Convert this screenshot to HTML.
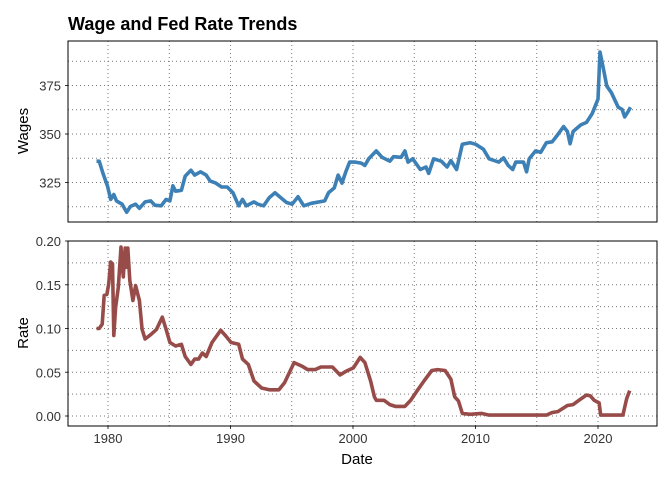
<!DOCTYPE html>
<html><head><meta charset="utf-8"><style>
body{margin:0;background:#fff;}
svg{display:block;font-family:"Liberation Sans",sans-serif;}
</style></head><body>
<svg id="chart" width="672" height="480" viewBox="0 0 672 480" xmlns="http://www.w3.org/2000/svg">
<text x="68" y="30" font-size="18" font-weight="bold" fill="#000">Wage and Fed Rate Trends</text>
<g id="grid"></g>
<g id="marks"></g>
<rect x="68" y="41" width="589" height="181" fill="none" stroke="#000" stroke-width="1"/>
<rect x="68" y="241" width="589" height="185" fill="none" stroke="#000" stroke-width="1"/>
<text transform="translate(28,131) rotate(-90)" text-anchor="middle" font-size="15" fill="#000">Wages</text>
<text transform="translate(28,333) rotate(-90)" text-anchor="middle" font-size="15" fill="#000">Rate</text>
<text x="357" y="464" text-anchor="middle" font-size="15" fill="#000">Date</text>
</svg>
<script>
const wageYears=[1979.06,1979.28,1979.59,1979.97,1980.22,1980.47,1980.69,1981.15,1981.53,1981.84,1982.25,1982.56,1983.03,1983.49,1983.81,1984.34,1984.74,1985.05,1985.30,1985.52,1985.99,1986.30,1986.77,1987.08,1987.55,1988.02,1988.33,1988.80,1989.27,1989.73,1990.20,1990.67,1990.98,1991.29,1991.92,1992.23,1992.70,1993.17,1993.63,1994.10,1994.57,1995.04,1995.51,1995.98,1996.60,1997.69,1998.00,1998.47,1998.78,1999.10,1999.41,1999.72,2000.19,2000.66,2000.97,2001.28,2001.90,2002.37,2003.00,2003.31,2003.93,2004.24,2004.49,2004.87,2005.49,2005.96,2006.18,2006.58,2007.21,2007.68,2007.99,2008.46,2008.92,2009.55,2010.02,2010.64,2011.11,2011.89,2012.29,2012.67,2013.04,2013.29,2013.92,2014.17,2014.38,2014.91,2015.32,2015.79,2016.26,2016.72,2017.19,2017.50,2017.72,2017.97,2018.60,2019.06,2019.53,2020.00,2020.16,2020.41,2020.72,2021.09,2021.65,2021.97,2022.18,2022.40,2022.65];
const wageValues=[336,336,329.7,323,316.3,318.8,315.5,313.8,309.7,312.7,313.8,311.7,315,315.5,313.3,313,316.3,315.5,323.3,320.5,321,328.3,331.3,328.8,330.5,328.8,325.8,324.7,322.7,322.7,319.7,313,316.3,313,315,313.8,313,317.2,319.7,317.2,314.7,313.8,317.7,313,314.3,315.5,319.7,322.2,328.8,324.7,330.5,335.5,335.5,335,333.8,337.2,341.3,338,336,338.3,338,341.3,335.5,337.2,331.7,333,329.7,337.2,336,333,336.3,331.7,344.7,345.5,344.7,342.2,337.2,335.5,337.7,333.8,331.7,335.5,335.5,330.5,337.2,341.3,340.5,345.5,346,349.7,353.8,351.3,345,351.3,354.7,356,360.5,368,392.2,384.7,374.7,371.3,363.8,362.7,358.8,361,363.8];
const rateYears=[1979.06,1979.28,1979.53,1979.69,1979.91,1980.06,1980.22,1980.37,1980.47,1980.62,1980.84,1981.06,1981.25,1981.40,1981.53,1981.62,1981.78,1982.03,1982.25,1982.56,1982.78,1983.03,1983.49,1983.96,1984.43,1984.74,1985.05,1985.52,1985.99,1986.30,1986.77,1987.08,1987.39,1987.71,1988.02,1988.49,1989.20,1989.58,1990.05,1990.67,1990.98,1991.45,1991.92,1992.54,1993.17,1993.95,1994.41,1995.19,1995.82,1996.29,1996.91,1997.38,1998.32,1998.94,1999.41,2000.03,2000.59,2000.97,2001.44,2001.75,2001.90,2002.53,2003.00,2003.46,2004.24,2004.71,2005.34,2005.80,2006.43,2006.90,2007.52,2007.99,2008.30,2008.61,2008.92,2009.55,2010.48,2011.11,2013.60,2015.79,2016.26,2016.72,2017.50,2017.97,2018.44,2019.06,2019.38,2019.69,2020.09,2020.22,2022.03,2022.34,2022.59];
const rateValues=[.100,.100,.105,.138,.139,.151,.176,.174,.092,.124,.147,.193,.159,.192,.170,.192,.155,.132,.149,.132,.099,.088,.093,.099,.113,.099,.084,.080,.082,.068,.059,.065,.065,.072,.068,.084,.098,.092,.084,.082,.065,.059,.040,.032,.030,.030,.038,.061,.057,.053,.053,.056,.056,.047,.051,.055,.067,.061,.040,.022,.018,.018,.013,.011,.011,.018,.031,.040,.052,.053,.052,.042,.022,.017,.003,.002,.003,.001,.001,.001,.004,.005,.012,.013,.018,.024,.023,.018,.015,.001,.001,.020,.029];
const xTicks=[1980,1990,2000,2010,2020];
const wageTicks=[325,350,375];
const rateTicks=[0.00,0.05,0.10,0.15,0.20];
const rateTickLabels=["0.00","0.05","0.10","0.15","0.20"];

const NS="http://www.w3.org/2000/svg";
const xs=y=>108+(y-1980)*12.25;
const yw=v=>134+(350-v)*1.94;
const yr=v=>416-v*875;
const grid=document.getElementById('grid');
const marks=document.getElementById('marks');
function mk(tag,attrs,parent){const e=document.createElementNS(NS,tag);for(const k in attrs)e.setAttribute(k,attrs[k]);parent.appendChild(e);return e;}
const gs={stroke:"#7a7a7a","stroke-width":"1","stroke-dasharray":"1 3",fill:"none"};
for(let y=1980;y<=2020;y+=5){
  const g1=mk('line',Object.assign({x1:xs(y),x2:xs(y),y1:41,y2:222},gs),grid);
  
  
  const g2=mk('line',Object.assign({x1:xs(y),x2:xs(y),y1:241,y2:426},gs),grid);
  
  
}
for(let v=312.5;v<=387.5;v+=12.5){
  const g=mk('line',Object.assign({x1:68,x2:657,y1:yw(v),y2:yw(v)},gs),grid);
  
  
}
for(let v=0;v<=0.2001;v+=0.025){
  const g=mk('line',Object.assign({x1:68,x2:657,y1:yr(v),y2:yr(v)},gs),grid);
  
  
}
wageTicks.forEach(v=>{
  const t=mk('text',{x:61,y:yw(v)+5,"text-anchor":"end","font-size":"13",fill:"#333"},marks);t.textContent=v;
  
  
  mk('line',{x1:65,x2:68,y1:yw(v),y2:yw(v),stroke:"#333"},marks);
});
rateTicks.forEach((v,i)=>{
  const t=mk('text',{x:61,y:yr(v)+5,"text-anchor":"end","font-size":"13",fill:"#333"},marks);t.textContent=rateTickLabels[i];
  
  
  mk('line',{x1:65,x2:68,y1:yr(v),y2:yr(v),stroke:"#333"},marks);
});
xTicks.forEach(y=>{
  const t=mk('text',{x:xs(y),y:443,"text-anchor":"middle","font-size":"13",fill:"#333"},marks);t.textContent=y;
  
  
  mk('line',{x1:xs(y),x2:xs(y),y1:426,y2:429,stroke:"#333"},marks);
});
const wp=mk('path',{d:wageYears.map((y,i)=>(i?'L':'M')+xs(y).toFixed(1)+','+yw(wageValues[i]).toFixed(1)).join(''),stroke:"#3D80B6","stroke-width":"3.6",fill:"none","stroke-linejoin":"round"},marks);


const rp=mk('path',{d:rateYears.map((y,i)=>(i?'L':'M')+xs(y).toFixed(1)+','+yr(rateValues[i]).toFixed(1)).join(''),stroke:"#974C49","stroke-width":"3.6",fill:"none","stroke-linejoin":"round"},marks);


</script>
</body></html>
